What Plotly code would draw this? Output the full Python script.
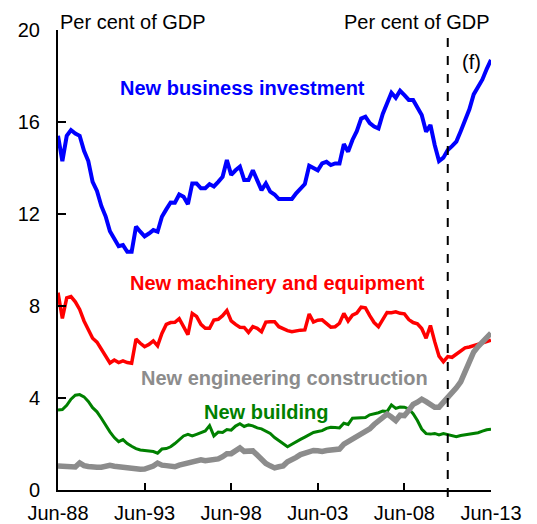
import pandas as pd
import plotly.graph_objects as go

# quarterly, Jun-88 to Jun-13 (per cent of GDP)
dates = pd.date_range("1988-06-30", periods=101, freq="QE")

business = [
    15.4, 14.3, 15.4, 15.65, 15.5, 15.4, 14.75, 14.3, 13.4, 13.0,
    12.35, 11.9, 11.25, 10.9, 10.6, 10.65, 10.36, 10.36, 11.45, 11.23,
    11.03, 11.15, 11.3, 11.23, 11.88, 12.2, 12.5, 12.49, 12.85, 12.75,
    12.43, 13.33, 13.33, 13.12, 13.12, 13.3, 13.2, 13.4, 13.62, 14.35,
    13.7, 13.9, 14.06, 13.48, 13.48, 13.9, 13.45, 13.04, 13.33, 12.97,
    12.85, 12.65, 12.65, 12.65, 12.65, 12.9, 13.1, 13.3, 14.1, 14.0,
    13.9, 14.2, 14.27, 14.13, 14.2, 14.2, 15.04, 14.71, 15.22, 15.6,
    16.15, 16.23, 15.95, 15.8, 15.72, 16.35, 16.8, 17.27, 17.05, 17.36,
    17.17, 16.96, 16.96, 16.67, 16.3, 15.58, 15.87, 15.0, 14.3, 14.45,
    14.78, 14.95, 15.15, 15.6, 16.1, 16.55, 17.2, 17.55, 17.85, 18.3,
    18.7,
]
machinery = [
    8.58, 7.46, 8.35, 8.41, 8.18, 7.85, 7.35, 6.97, 6.6, 6.43,
    6.12, 5.88, 5.52, 5.65, 5.54, 5.61, 5.54, 5.51, 6.56, 6.38,
    6.23, 6.33, 6.48, 6.27, 6.81, 7.2, 7.28, 7.29, 7.45, 7.1,
    6.75, 7.68, 7.55, 7.2, 7.03, 7.03, 7.39, 7.42, 7.58, 7.8,
    7.35, 7.2, 7.08, 7.07, 6.85, 7.1, 7.03, 6.88, 7.3, 7.32,
    7.32, 7.1, 7.0, 6.93, 6.88, 6.92, 6.95, 6.96, 7.65, 7.3,
    7.38, 7.4, 7.22, 7.08, 7.1, 7.25, 7.68, 7.35, 7.6, 7.69,
    7.95, 7.92, 7.58, 7.28, 7.1, 7.4, 7.72, 7.71, 7.75, 7.68,
    7.66, 7.41, 7.28, 7.23, 7.02, 6.6, 7.15, 6.45, 5.82, 5.58,
    5.8, 5.77, 5.9, 6.05, 6.18, 6.22, 6.27, 6.32, 6.37, 6.45,
    6.52,
]
building = [
    3.48, 3.5, 3.68, 3.95, 4.12, 4.15, 4.05, 3.85, 3.58, 3.4,
    3.12, 2.8, 2.53, 2.28, 2.1, 2.19, 2.02, 1.9, 1.8, 1.74,
    1.71, 1.7, 1.67, 1.6, 1.78, 1.8, 1.88, 2.02, 2.2, 2.35,
    2.42, 2.35, 2.42, 2.48, 2.57, 2.8, 2.35, 2.52, 2.5, 2.63,
    2.6, 2.78, 2.88, 2.76, 2.83, 2.79, 2.7, 2.66, 2.55, 2.46,
    2.28, 2.15, 2.02, 1.88, 1.99, 2.08, 2.2, 2.3, 2.4, 2.5,
    2.54, 2.58, 2.68, 2.73, 2.72, 2.7, 2.9, 2.85, 3.12, 3.12,
    3.12, 3.15, 3.27, 3.31, 3.36, 3.43, 3.41, 3.7, 3.55, 3.61,
    3.6, 3.52, 3.32, 3.02, 2.65, 2.45, 2.43, 2.46, 2.39, 2.45,
    2.4, 2.36, 2.32, 2.37, 2.4, 2.42, 2.45, 2.49, 2.56, 2.62,
    2.64,
]
engineering = [
    1.04, 1.02, 1.0, 1.03, 1.0, 1.18, 1.06, 1.02, 0.99, 0.99,
    0.99, 1.03, 1.07, 1.03, 1.0, 0.96, 0.93, 0.91, 0.9, 0.9,
    0.91, 0.97, 1.04, 1.17, 1.08, 1.06, 1.05, 1.01, 1.08, 1.12,
    1.17, 1.21, 1.28, 1.31, 1.27, 1.28, 1.3, 1.35, 1.45, 1.58,
    1.58, 1.74, 1.83, 1.68, 1.71, 1.7, 1.52, 1.33, 1.15, 1.05,
    0.96, 1.01, 1.05, 1.23, 1.3, 1.42, 1.54, 1.62, 1.67, 1.72,
    1.71, 1.68, 1.72, 1.74, 1.75, 1.78, 1.99, 2.1, 2.21, 2.36,
    2.5, 2.6, 2.66, 2.85, 3.02, 3.2, 3.3, 3.17, 3.02, 3.25,
    3.23, 3.46, 3.72, 3.82, 3.95, 3.84, 3.68, 3.6, 3.6, 3.8,
    4.06, 4.25, 4.44, 4.7, 5.1, 5.55, 6.0, 6.24, 6.44, 6.62,
    6.82,
]

tick_dates = ["1988-06-30", "1993-06-30", "1998-06-30", "2003-06-30", "2008-06-30", "2013-06-30"]
tick_text = ["Jun-88", "Jun-93", "Jun-98", "Jun-03", "Jun-08", "Jun-13"]
forecast_start = "2010-12-31"

FONT = "Arial, Liberation Sans, sans-serif"

fig = go.Figure()
series = [
    (business, "#0000ff", 4),
    (machinery, "#ff0000", 3.5),
    (building, "#008000", 3),
    (engineering, "#8c8c8c", 5.5),
]
for vals, col, w in series:
    fig.add_trace(go.Scatter(x=dates, y=vals, mode="lines",
                             line=dict(color=col, width=w), showlegend=False))

labels = [
    ("New business investment", 0.425, 17.5, "#0000ff"),
    ("New machinery and equipment", 0.508, 9.0, "#ff0000"),
    ("New engineering construction", 0.522, 4.87, "#8c8c8c"),
    ("New building", 0.333, 3.39, "#008000"),
]
for txt, x, y, col in labels:
    fig.add_annotation(text=f"<b>{txt}</b>", x=x, y=y, xref="paper", yref="y",
                       showarrow=False, font=dict(size=20, color=col, family=FONT))

fig.add_annotation(text="(f)", x=0.928, y=18.6, xref="paper", yref="y",
                   xanchor="left", showarrow=False,
                   font=dict(size=20, color="black", family=FONT))
fig.add_annotation(text="Per cent of GDP", x=0, y=1.017, xref="paper", yref="paper",
                   xanchor="left", yanchor="middle", showarrow=False,
                   font=dict(size=20, color="black", family=FONT))
fig.add_annotation(text="Per cent of GDP", x=1.003, y=1.017, xref="paper", yref="paper",
                   xanchor="right", yanchor="middle", showarrow=False,
                   font=dict(size=20, color="black", family=FONT))

fig.add_shape(type="line", x0=forecast_start, x1=forecast_start, y0=-0.015, y1=1,
              xref="x", yref="paper", line=dict(color="black", width=2, dash="dash"))

axis_common = dict(range=[0, 20], tickvals=[0, 4, 8, 12, 16, 20], showgrid=False,
                   zeroline=False, showline=True, linecolor="black", linewidth=2,
                   ticks="inside", ticklen=8, tickwidth=2, tickcolor="black",
                   ticklabelstandoff=12, automargin=False,
                   tickfont=dict(size=20, color="black", family=FONT))

# page body adds an 8px offset, so the figure is 8px smaller than the window
fig.update_layout(
    width=529, height=516,
    margin=dict(l=50, r=46, t=22, b=34),
    paper_bgcolor="white", plot_bgcolor="white",
    xaxis=dict(range=[dates[0], dates[-1]], tickvals=tick_dates, ticktext=tick_text,
               showgrid=False, zeroline=False, showline=True, linecolor="black",
               linewidth=2, ticks="inside", ticklen=7, tickwidth=2, tickcolor="black",
               ticklabelstandoff=4, automargin=False,
               tickfont=dict(size=20, color="black", family=FONT)),
    yaxis=dict(side="left", **axis_common),
    yaxis2=dict(side="right", overlaying="y", **axis_common),
)

fig.write_html("out.html")
